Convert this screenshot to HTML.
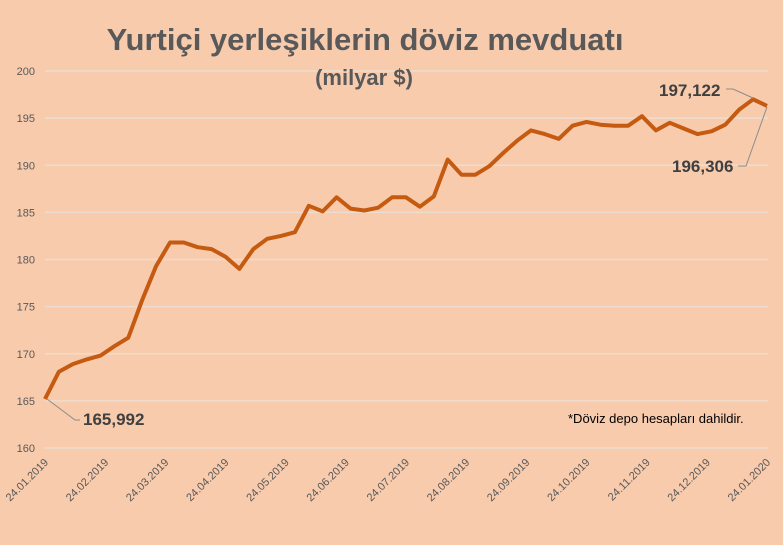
<!DOCTYPE html>
<html><head><meta charset="utf-8"><style>
html,body{margin:0;padding:0;background:#F8CBAD;}
svg{display:block;font-family:"Liberation Sans",Calibri,sans-serif;}
</style></head><body>
<svg id="chart" width="783" height="545" viewBox="0 0 783 545">
<rect width="783" height="545" fill="#F8CBAD"/>
<g id="grid"></g>
<text x="365" y="50" text-anchor="middle" font-size="31" font-weight="bold" fill="#595959">Yurtiçi yerleşiklerin döviz mevduatı</text>
<text x="364" y="85" text-anchor="middle" font-size="22" font-weight="bold" fill="#595959">(milyar $)</text>
<g id="yticks"></g>
<g id="xticks"></g>
<g id="series"></g>
<g>
<polyline points="47,399 75,420 80,420" fill="none" stroke="#8c8c8c" stroke-width="1"/>
<text x="83" y="425" font-size="17" font-weight="bold" fill="#404040">165,992</text>
<polyline points="726,89 733,89 753,98" fill="none" stroke="#8c8c8c" stroke-width="1"/>
<text x="659" y="96" font-size="17" font-weight="bold" fill="#404040">197,122</text>
<polyline points="738,166 746,166 767,107" fill="none" stroke="#8c8c8c" stroke-width="1"/>
<text x="672" y="172" font-size="17" font-weight="bold" fill="#404040">196,306</text>
<text x="568" y="423" font-size="13" fill="#000">*Döviz depo hesapları dahildir.</text>
</g>
</svg>
<script>
const values = [165.2,168.1,168.9,169.4,169.8,170.8,171.7,175.7,179.3,181.8,181.8,181.3,181.1,180.3,179.0,181.1,182.2,182.5,182.9,185.7,185.1,186.6,185.4,185.2,185.5,186.6,186.6,185.6,186.7,190.6,189.0,189.0,189.9,191.3,192.6,193.7,193.3,192.8,194.2,194.6,194.3,194.2,194.2,195.2,193.7,194.5,193.9,193.3,193.6,194.3,195.9,197.0,196.3];
const yTicks = [160,165,170,175,180,185,190,195,200];
const xLabels = ["24.01.2019","24.02.2019","24.03.2019","24.04.2019","24.05.2019","24.06.2019","24.07.2019","24.08.2019","24.09.2019","24.10.2019","24.11.2019","24.12.2019","24.01.2020"];
const NS="http://www.w3.org/2000/svg";
const x0=45,x1=767,yTop=71,yBot=448,vMin=160,vMax=200;
function xs(i){return x0+i*(x1-x0)/(values.length-1);}
function ys(v){return yBot-(v-vMin)*(yBot-yTop)/(vMax-vMin);}
const grid=document.getElementById('grid'),yt=document.getElementById('yticks'),xt=document.getElementById('xticks'),se=document.getElementById('series');
yTicks.forEach(t=>{
 const l=document.createElementNS(NS,'line');
 
 
 l.setAttribute('x1',x0);l.setAttribute('x2',768);l.setAttribute('y1',ys(t));l.setAttribute('y2',ys(t));
 l.setAttribute('stroke','#EEDCD0');l.setAttribute('stroke-width','1.5');grid.appendChild(l);
 const tx=document.createElementNS(NS,'text');
 
 
 tx.setAttribute('x',35);tx.setAttribute('y',ys(t)+4);tx.setAttribute('text-anchor','end');
 tx.setAttribute('font-size','11');tx.setAttribute('fill','#595959');tx.textContent=t;yt.appendChild(tx);
});
xLabels.forEach((s,i)=>{
 const x=x0+4+i*(x1-x0)/(xLabels.length-1),y=463;
 const tx=document.createElementNS(NS,'text');
 
 
 tx.setAttribute('x',x);tx.setAttribute('y',y);tx.setAttribute('text-anchor','end');
 tx.setAttribute('transform','rotate(-45 '+x+' '+y+')');
 tx.setAttribute('font-size','11');tx.setAttribute('fill','#595959');tx.textContent=s;xt.appendChild(tx);
});
const pl=document.createElementNS(NS,'polyline');


pl.setAttribute('points',values.map((v,i)=>xs(i).toFixed(1)+','+ys(v).toFixed(1)).join(' '));
pl.setAttribute('fill','none');pl.setAttribute('stroke','#C55A11');pl.setAttribute('stroke-width','4');pl.setAttribute('stroke-linejoin','round');
se.appendChild(pl);
</script>
</body></html>
